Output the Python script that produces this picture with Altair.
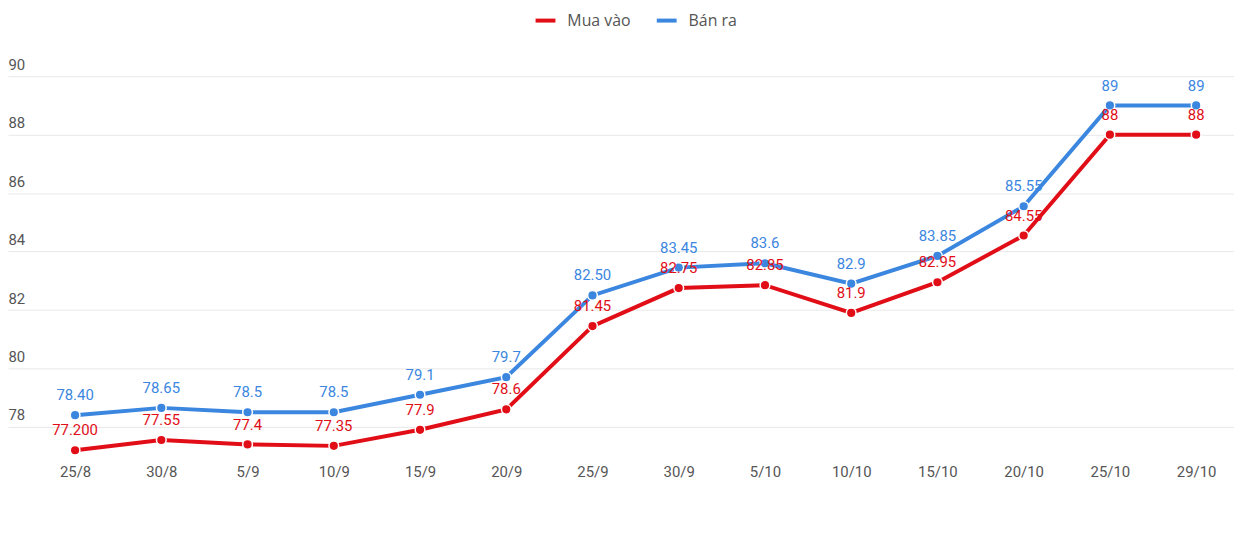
import json
import altair as alt
import pandas as pd

dates = ["25/8", "30/8", "5/9", "10/9", "15/9", "20/9", "25/9", "30/9",
         "5/10", "10/10", "15/10", "20/10", "25/10", "29/10"]
mua_vao = [77.2, 77.55, 77.4, 77.35, 77.9, 78.6, 81.45, 82.75, 82.85, 81.9, 82.95, 84.55, 88, 88]
mua_vao_labels = ["77.200", "77.55", "77.4", "77.35", "77.9", "78.6", "81.45", "82.75",
                  "82.85", "81.9", "82.95", "84.55", "88", "88"]
ban_ra = [78.4, 78.65, 78.5, 78.5, 79.1, 79.7, 82.5, 83.45, 83.6, 82.9, 83.85, 85.55, 89, 89]
ban_ra_labels = ["78.40", "78.65", "78.5", "78.5", "79.1", "79.7", "82.50", "83.45",
                 "83.6", "82.9", "83.85", "85.55", "89", "89"]
series = ["Mua vào", "Bán ra"]
colors = ["#e10e17", "#3b86df"]
y_ticks = [78, 80, 82, 84, 86, 88, 90]

rows = []
for i, d in enumerate(dates):
    rows.append({"idx": i, "date": d, "series": series[0], "value": mua_vao[i], "label": mua_vao_labels[i]})
    rows.append({"idx": i, "date": d, "series": series[1], "value": ban_ra[i], "label": ban_ra_labels[i]})
df = pd.DataFrame(rows)

label_expr = json.dumps(dates) + "[datum.value]"

x = alt.X("idx:Q",
          scale=alt.Scale(domain=[-0.778, 13.439], nice=False, zero=False),
          axis=alt.Axis(values=list(range(len(dates))), labelExpr=label_expr, title=None,
                        grid=False, domain=False, ticks=False, labelPadding=6,
                        labelFontSize=15, labelColor="#555555", labelFont="Roboto"))
y = alt.Y("value:Q",
          scale=alt.Scale(domain=[76.91, 90.51], nice=False, zero=False),
          axis=alt.Axis(values=y_ticks, title=None, grid=True, gridColor="#e8e8e8",
                        domain=False, ticks=False, labelAlign="left", labelBaseline="bottom",
                        labelPadding=0, labelOffset=-4, labelFontSize=15,
                        labelColor="#555555", labelFont="Roboto"))
color_scale = alt.Scale(domain=series, range=colors)

base = alt.Chart(df)

lines = base.mark_line(strokeWidth=4).encode(
    x=x, y=y,
    color=alt.Color("series:N", scale=color_scale, sort=series,
                    legend=alt.Legend(title=None, orient="none", direction="horizontal",
                                      legendX=529, legendY=-53, symbolType="stroke",
                                      symbolStrokeWidth=4, symbolSize=400,
                                      labelFontSize=16, labelColor="#555555",
                                      labelFont="Open Sans", columnPadding=18,
                                      labelOffset=10)),
    detail="series:N",
)

points = base.mark_circle(size=95, opacity=1, stroke="white", strokeWidth=1.5).encode(
    x=x, y=y,
    color=alt.Color("series:N", scale=color_scale, legend=None),
)

texts = base.mark_text(dy=-20, fontSize=15, font="Roboto", baseline="middle").encode(
    x=x, y=y, text="label:N",
    color=alt.Color("series:N", scale=color_scale, legend=None),
)

chart = alt.layer(lines, points, texts).properties(
    width=1234, height=400,
    autosize=alt.AutoSizeParams(type="none"),
    padding={"left": 0, "top": 52, "right": 0, "bottom": 60},
).configure(background="white").configure_view(strokeWidth=0, stroke="transparent")

chart.save("out.html", embed_options={"renderer": "svg", "actions": False})
